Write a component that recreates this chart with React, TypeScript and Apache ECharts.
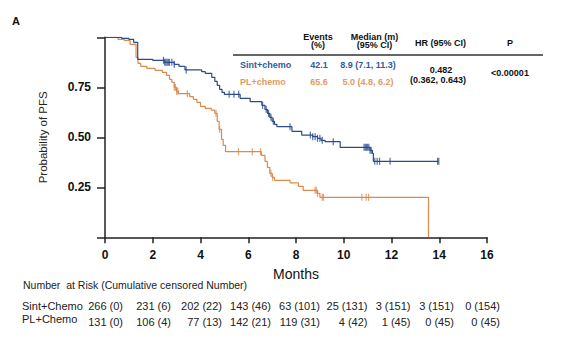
import React, { useEffect, useRef } from "react";
import * as echarts from "echarts";

// Kaplan-Meier step points (time in months, survival after the step)
const sintTimes = [0, 0.7, 1.0, 1.2, 1.37, 2.0, 2.5, 2.9, 3.1, 3.35, 4.05, 4.2, 4.47, 4.6, 4.7, 4.8, 4.9, 5.0, 5.66, 6.08, 6.57, 6.7, 6.8, 6.9, 7.0, 7.1, 7.2, 7.83, 8.24, 8.7, 8.9, 9.05, 9.22, 9.85, 11.1, 11.2, 11.24, 13.97];
const sintSurv = [1, 0.995, 0.99, 0.975, 0.89, 0.885, 0.875, 0.865, 0.855, 0.837, 0.828, 0.82, 0.8, 0.78, 0.76, 0.74, 0.725, 0.715, 0.695, 0.678, 0.66, 0.64, 0.62, 0.6, 0.58, 0.565, 0.553, 0.53, 0.511, 0.503, 0.495, 0.485, 0.478, 0.45, 0.435, 0.42, 0.38, 0.38];
const sintCensored = [2.45, 2.5, 2.55, 2.6, 2.65, 2.7, 2.8, 2.9, 3.4, 5.2, 5.4, 5.6, 6.6, 6.75, 6.85, 6.95, 7.05, 7.75, 8.6, 8.7, 8.8, 8.9, 9.0, 9.1, 9.56, 10.85, 10.9, 10.95, 11.0, 11.05, 11.1, 11.15, 11.3, 11.4, 11.5, 11.94, 13.93, 13.98];

const plTimes = [0, 0.55, 0.8, 1.05, 1.3, 1.38, 1.5, 1.75, 2.1, 2.4, 2.58, 2.7, 2.8, 2.9, 3.0, 3.08, 3.55, 3.7, 3.85, 4.0, 4.2, 4.45, 4.6, 4.7, 4.78, 4.88, 4.95, 5.05, 6.55, 6.7, 6.8, 6.9, 7.0, 7.1, 7.75, 8.1, 8.3, 8.9, 9.0, 13.55];
const plSurv = [1, 0.99, 0.985, 0.965, 0.9, 0.87, 0.855, 0.845, 0.835, 0.825, 0.81, 0.79, 0.775, 0.75, 0.73, 0.718, 0.703, 0.69, 0.675, 0.655, 0.645, 0.636, 0.62, 0.58, 0.54, 0.49, 0.46, 0.428, 0.41, 0.38, 0.35, 0.32, 0.3, 0.285, 0.272, 0.255, 0.235, 0.22, 0.2, 0];
const plCensored = [2.9, 2.95, 3.0, 3.05, 3.45, 4.65, 4.8, 5.59, 6.17, 6.52, 6.95, 7.02, 8.8, 8.85, 8.9, 9.1, 9.15, 10.76, 10.94, 11.04];

const xTicks = [0, 2, 4, 6, 8, 10, 12, 14, 16];

// Number at risk table
const sintRisk = [266, 231, 202, 143, 63, 25, 3, 3, 0];
const sintCumCens = [0, 6, 22, 46, 101, 131, 151, 151, 154];
const plRisk = [131, 106, 77, 142, 119, 4, 1, 0, 0];
const plCumCens = [0, 4, 13, 21, 31, 42, 45, 45, 45];

// Summary table
const tableArms = ["Sint+chemo", "PL+chemo"];
const tableEvents = ["42.1", "65.6"];
const tableMedians = ["8.9 (7.1, 11.3)", "5.0 (4.8, 6.2)"];
const hrText = ["0.482", "(0.362, 0.643)"];
const pText = "<0.00001";

const BLUE = "#2b4c8c";
const ORANGE = "#dc8b4c";
const BLUE_TXT = "#2f5c9e";
const ORANGE_TXT = "#e39a5e";
const FONT = "Arial, 'Liberation Sans', sans-serif";

const riskColRight = [123, 171, 222, 271, 320, 367.5, 410.5, 454, 500];

function survAt(times: number[], surv: number[], t: number) {
  let s = surv[0];
  for (let i = 0; i < times.length; i++) {
    if (times[i] <= t) s = surv[i];
  }
  return s;
}

function txt(text: string, x: number, y: number, font: string, fill: string, align = "center") {
  return {
    type: "text",
    silent: true,
    style: {
      text,
      x,
      y,
      font,
      fill,
      textAlign: align,
      textVerticalAlign: "middle",
      verticalAlign: "middle",
    },
  };
}

export default function App() {
  const ref = useRef<HTMLDivElement>(null);
  useEffect(() => {
    document.body.style.margin = "0";
    if (!ref.current) return;
    const chart = echarts.init(ref.current, null, { renderer: "svg" });

    const graphics: any[] = [];
    graphics.push(txt("A", 16, 21, `bold 11px ${FONT}`, "#111"));
    // summary table
    const hb = `bold 9px ${FONT}`;
    graphics.push(txt("Events", 318, 36.5, hb, "#111"));
    graphics.push(txt("(%)", 318, 45, hb, "#111"));
    graphics.push(txt("Median (m)", 374.5, 36.5, hb, "#111"));
    graphics.push(txt("(95% CI)", 374.5, 45, hb, "#111"));
    graphics.push(txt("HR (95% CI)", 440.5, 42.5, hb, "#111"));
    graphics.push(txt("P", 510, 42.5, hb, "#111"));
    graphics.push({
      type: "line",
      silent: true,
      shape: { x1: 233, y1: 55, x2: 543, y2: 55 },
      style: { stroke: "#333", lineWidth: 1.5 },
    });
    const rowY = [65, 81.5];
    const rowCol = [BLUE_TXT, ORANGE_TXT];
    tableArms.forEach((arm, i) => {
      graphics.push(txt(arm, 240, rowY[i], hb, rowCol[i], "left"));
      graphics.push(txt(tableEvents[i], 319, rowY[i], hb, rowCol[i]));
      graphics.push(txt(tableMedians[i], 368, rowY[i], hb, rowCol[i]));
    });
    graphics.push(txt(hrText[0], 441, 69.5, hb, "#111"));
    graphics.push(txt(hrText[1], 438, 79.5, hb, "#111"));
    graphics.push(txt(pText, 510, 73, hb, "#111"));

    // risk table
    const rf = `11px ${FONT}`;
    graphics.push(txt("Number  at Risk (Cumulative censored Number)", 23, 284.5, `10.5px ${FONT}`, "#222", "left"));
    graphics.push(txt("Sint+Chemo", 22, 305.5, rf, "#222", "left"));
    graphics.push(txt("PL+Chemo", 22, 319, rf, "#222", "left"));
    sintRisk.forEach((n, i) => {
      graphics.push(txt(`${n} (${sintCumCens[i]})`, riskColRight[i], 305.5, rf, "#222", "right"));
    });
    plRisk.forEach((n, i) => {
      graphics.push(txt(`${n} (${plCumCens[i]})`, riskColRight[i], 321.5, rf, "#222", "right"));
    });

    chart.setOption({
      animation: false,
      backgroundColor: "#fff",
      grid: { left: 105, right: 79, top: 37.3, bottom: 100.7, containLabel: false },
      xAxis: {
        type: "value",
        min: 0,
        max: 16,
        interval: 2,
        name: "Months",
        nameLocation: "middle",
        nameGap: 30,
        nameTextStyle: { fontFamily: FONT, fontSize: 14, color: "#111" },
        axisLine: { show: true, lineStyle: { color: "#222", width: 1.5 } },
        axisTick: { show: true, length: 6, lineStyle: { color: "#222", width: 1.5 } },
        axisLabel: {
          margin: 12,
          fontFamily: FONT,
          fontSize: 12,
          fontWeight: "bold",
          color: "#111",
          formatter: (v: number) => (xTicks.includes(v) ? String(v) : ""),
        },
        splitLine: { show: false },
      },
      yAxis: {
        type: "value",
        min: 0,
        max: 1,
        interval: 0.25,
        name: "Probability of PFS",
        nameLocation: "middle",
        nameGap: 56,
        nameTextStyle: { fontFamily: FONT, fontSize: 11.5, color: "#222" },
        axisLine: { show: true, lineStyle: { color: "#222", width: 1.5 } },
        axisTick: { show: true, length: 8, lineStyle: { color: "#222", width: 1.5 } },
        axisLabel: {
          margin: 14,
          fontFamily: FONT,
          fontSize: 12,
          fontWeight: "bold",
          color: "#111",
          formatter: (v: number) => (v === 0 || v === 1 ? "" : v.toFixed(2)),
        },
        splitLine: { show: false },
      },
      graphic: graphics,
      series: [
        {
          type: "line",
          step: "end",
          symbol: "none",
          data: plTimes.map((t, i) => [t, plSurv[i]]),
          lineStyle: { color: ORANGE, width: 1.2 },
          z: 2,
        },
        {
          type: "scatter",
          symbol: "rect",
          symbolSize: [1.2, 7],
          data: plCensored.map((t) => [t, survAt(plTimes, plSurv, t)]),
          itemStyle: { color: ORANGE },
          z: 3,
        },
        {
          type: "line",
          step: "end",
          symbol: "none",
          data: sintTimes.map((t, i) => [t, sintSurv[i]]),
          lineStyle: { color: BLUE, width: 1.2 },
          z: 4,
        },
        {
          type: "scatter",
          symbol: "rect",
          symbolSize: [1.2, 7],
          data: sintCensored.map((t) => [t, survAt(sintTimes, sintSurv, t)]),
          itemStyle: { color: BLUE },
          z: 5,
        },
      ],
    });
    return () => chart.dispose();
  }, []);
  return <div ref={ref} style={{ width: 566, height: 338 }} />;
}
